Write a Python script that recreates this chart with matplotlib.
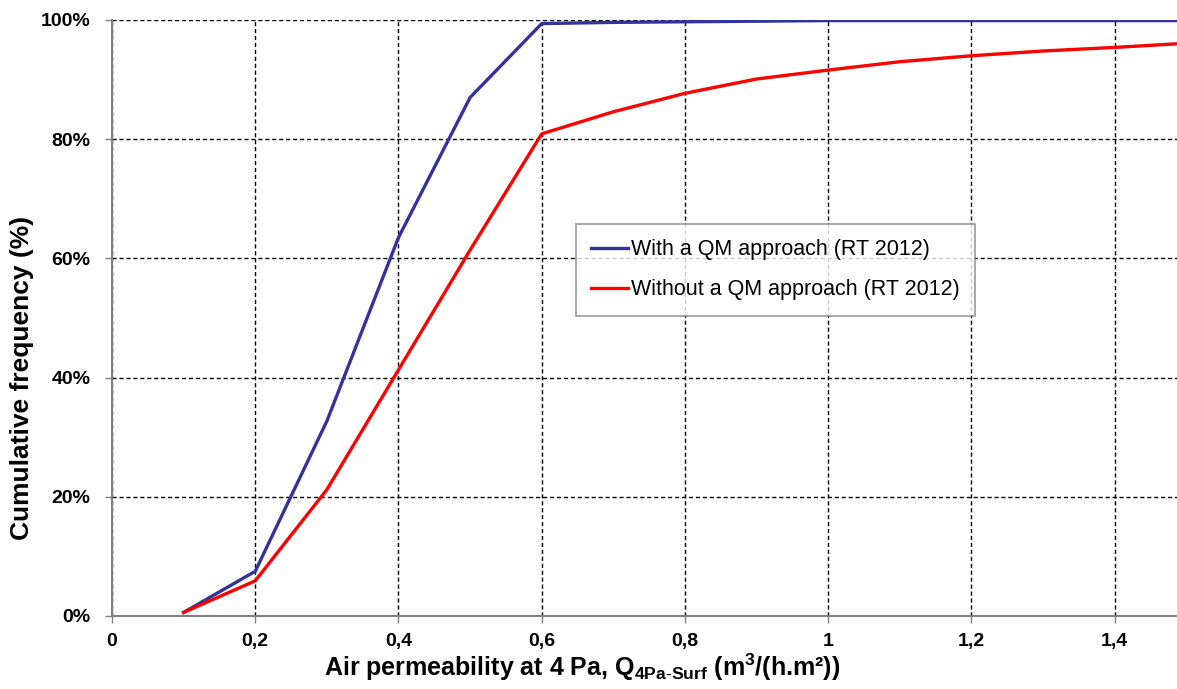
import matplotlib
matplotlib.use("Agg")
import matplotlib.pyplot as plt
from matplotlib.ticker import FuncFormatter, MultipleLocator

plt.rcParams['font.family'] = ['Liberation Sans', 'DejaVu Sans']
plt.rcParams['mathtext.fontset'] = 'custom'
plt.rcParams['mathtext.rm'] = 'Liberation Sans'
plt.rcParams['mathtext.bf'] = 'Liberation Sans:bold'
plt.rcParams['mathtext.it'] = 'Liberation Sans:italic'

x_with = [0.1, 0.2, 0.3, 0.4, 0.5, 0.6, 0.7, 0.8, 0.9, 1.0, 1.1, 1.2, 1.3, 1.4, 1.5]
y_with = [0.6, 7.5, 32.7, 63.5, 87.0, 99.4, 99.6, 99.7, 99.8, 99.9, 99.9, 99.9, 99.9, 99.9, 99.9]
x_without = [0.1, 0.2, 0.3, 0.4, 0.5, 0.6, 0.7, 0.8, 0.9, 1.0, 1.1, 1.2, 1.3, 1.4, 1.5]
y_without = [0.6, 5.9, 21.2, 41.3, 61.4, 80.9, 84.6, 87.7, 90.1, 91.6, 93.0, 94.0, 94.8, 95.4, 96.1]
label_with = "With a QM approach (RT 2012)"
label_without = "Without a QM approach (RT 2012)"

W, H = 1177, 689
fig = plt.figure(figsize=(W/100, H/100), dpi=100)
ax = fig.add_axes([112/W, (H-616)/H, 1 - 112/W, (616-20)/H])

ax.plot(x_with, [v/100 for v in y_with], color='#333399', lw=2.4, label=label_with, zorder=3)
ax.plot(x_without, [v/100 for v in y_without], color='#FF0000', lw=2.4, label=label_without, zorder=3)

ax.set_xlim(0, 1.487)
ax.set_ylim(0, 1.0)
ax.xaxis.set_major_locator(MultipleLocator(0.2))
ax.yaxis.set_major_locator(MultipleLocator(0.2))
ax.xaxis.set_major_formatter(FuncFormatter(lambda v, p: ('%g' % round(v, 1)).replace('.', ',')))
ax.yaxis.set_major_formatter(FuncFormatter(lambda v, p: '%d%%' % round(v*100)))

ax.grid(True, color='black', linestyle=(0, (3, 2)), linewidth=1.0, zorder=1)
ax.set_axisbelow(True)
for s in ['top', 'right']:
    ax.spines[s].set_visible(False)
for s in ['left', 'bottom']:
    ax.spines[s].set_color('#808080')
    ax.spines[s].set_linewidth(1.5)
ax.tick_params(axis='both', which='major', direction='out', length=5, width=1, color='#808080',
               labelsize=14)
ax.tick_params(axis='y', pad=10.5)
ax.tick_params(axis='x', pad=7.5)
for lab in ax.get_xticklabels() + ax.get_yticklabels():
    lab.set_fontweight('bold')

fig.text(22/W, 1 - 378/H, "Cumulative frequency (%)", rotation=90, fontsize=19,
         fontweight='bold', ha='center', va='center')
fig.text(582/W, 1 - 676/H,
         r"Air permeability at 4 Pa, Q$_{\mathbf{4Pa\text{-}Surf}}$ (m$^{\mathbf{3}}$/(h.m²))",
         fontsize=18, fontweight='bold', ha='center', va='baseline')

leg = ax.legend(loc='upper left', bbox_to_anchor=((576-112)/1065, (616-224)/596),
                fontsize=15.5, frameon=True, fancybox=False, borderpad=0.7, labelspacing=0.9,
                handlelength=1.7, handletextpad=0.15, borderaxespad=0)
leg.get_frame().set_edgecolor('#808080')
leg.get_frame().set_linewidth(1.2)

fig.savefig("out.png", dpi=100)
